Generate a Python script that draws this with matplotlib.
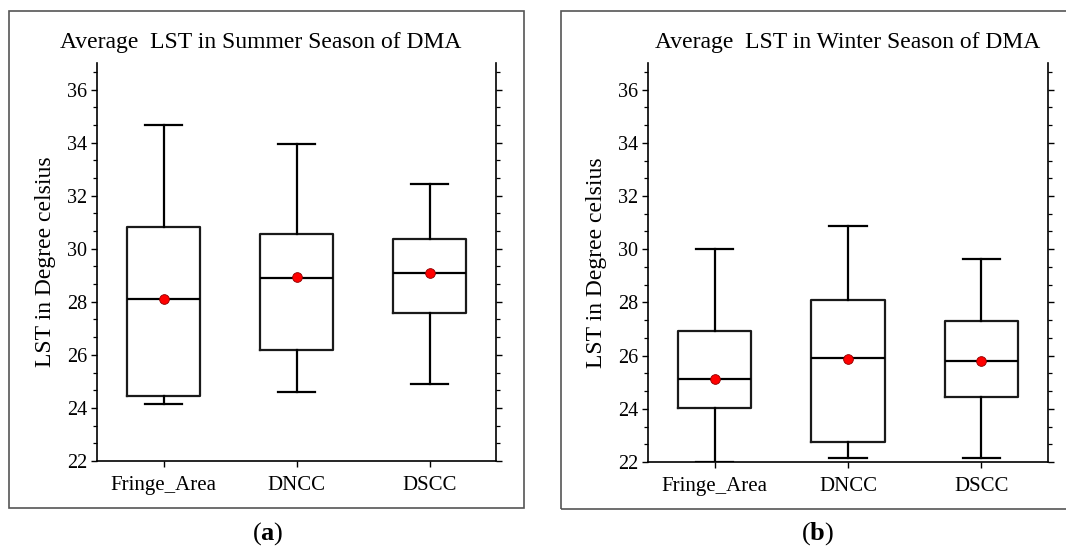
"""
Average LST box plots, summer vs winter (DMA)
"""
import matplotlib
matplotlib.use('Agg')
import matplotlib.pyplot as plt
from matplotlib.patches import Rectangle
from matplotlib.ticker import MultipleLocator, AutoMinorLocator

plt.rcParams['font.family'] = ['Liberation Serif', 'DejaVu Serif']
plt.rcParams['mathtext.fontset'] = 'custom'
plt.rcParams['mathtext.rm'] = 'Liberation Serif'
plt.rcParams['mathtext.bf'] = 'Liberation Serif:bold'

categories = ['Fringe_Area', 'DNCC', 'DSCC']

# summer season: whisker low, Q1, median, Q3, whisker high, mean
summer_low = [24.14, 24.59, 24.89]
summer_q1 = [24.45, 26.17, 27.57]
summer_med = [28.12, 28.91, 29.07]
summer_q3 = [30.82, 30.57, 30.37]
summer_high = [34.67, 33.95, 32.45]
summer_mean = [28.12, 28.93, 29.08]

# winter season
winter_low = [22.0, 22.16, 22.16]
winter_q1 = [24.02, 22.77, 24.45]
winter_med = [25.12, 25.90, 25.81]
winter_q3 = [26.92, 28.10, 27.30]
winter_high = [30.0, 30.86, 29.62]
winter_mean = [25.11, 25.89, 25.81]


def build_stats(low, q1, med, q3, high, mean):
    stats = []
    for i in range(len(categories)):
        stats.append({'whislo': low[i], 'q1': q1[i], 'med': med[i], 'q3': q3[i],
                      'whishi': high[i], 'mean': mean[i], 'fliers': []})
    return stats


def draw_panel(ax, stats, title, title_x):
    pos = [1, 2, 3]
    lw = 1.6
    ax.bxp(stats, positions=pos, widths=0.55, capwidths=0.28, showmeans=True,
           boxprops=dict(color='#1a1a1a', linewidth=lw),
           whiskerprops=dict(color='black', linewidth=lw),
           capprops=dict(color='black', linewidth=lw),
           medianprops=dict(color='black', linewidth=lw),
           meanprops=dict(marker='o', markerfacecolor='red', markeredgecolor='#8b0000',
                          markeredgewidth=0.6, markersize=7))
    ax.set_xlim(0.5, 3.5)
    ax.set_ylim(22, 37)
    ax.set_xticks(pos)
    ax.set_xticklabels(categories, fontsize=15)
    ax.yaxis.set_major_locator(MultipleLocator(2))
    ax.yaxis.set_minor_locator(AutoMinorLocator(3))
    ax.tick_params(axis='y', which='both', direction='out', right=True, labelsize=14.5)
    ax.tick_params(axis='y', which='major', length=4, width=1, pad=3)
    ax.tick_params(axis='y', which='minor', length=3, width=0.9)
    ax.tick_params(axis='x', which='major', direction='out', length=4, width=1, pad=7)
    ax.spines['top'].set_visible(False)
    for side in ['left', 'right', 'bottom']:
        ax.spines[side].set_linewidth(1.2)
    ax.set_ylabel('LST in Degree celsius', fontsize=17, labelpad=8)
    ax.set_title(title, fontsize=17, pad=11, x=title_x)


fig = plt.figure(figsize=(10.66, 5.48), dpi=100)

ax1 = fig.add_axes([97 / 1066, 1 - 461 / 548, 399 / 1066, 398 / 548])
ax2 = fig.add_axes([648 / 1066, 1 - 462 / 548, 400 / 1066, 399 / 548])

draw_panel(ax1, build_stats(summer_low, summer_q1, summer_med, summer_q3, summer_high, summer_mean),
           'Average  LST in Summer Season of DMA', (261 - 97) / 399)
draw_panel(ax2, build_stats(winter_low, winter_q1, winter_med, winter_q3, winter_high, winter_mean),
           'Average  LST in Winter Season of DMA', 0.5)

# outer frames around each panel
fig.patches.append(Rectangle((9 / 1066, 1 - 508 / 548), 515 / 1066, 497 / 548,
                             transform=fig.transFigure, fill=False, edgecolor='#555555',
                             linewidth=1.2, zorder=0))
fig.patches.append(Rectangle((561 / 1066, 1 - 509 / 548), 520 / 1066, 498 / 548,
                             transform=fig.transFigure, fill=False, edgecolor='#555555',
                             linewidth=1.2, zorder=0))

fig.text(268 / 1066, 1 - 534 / 548, r'($\mathbf{a}$)', ha='center', va='center', fontsize=19)
fig.text(818 / 1066, 1 - 534 / 548, r'($\mathbf{b}$)', ha='center', va='center', fontsize=19)

fig.savefig('out.png', dpi=100)
